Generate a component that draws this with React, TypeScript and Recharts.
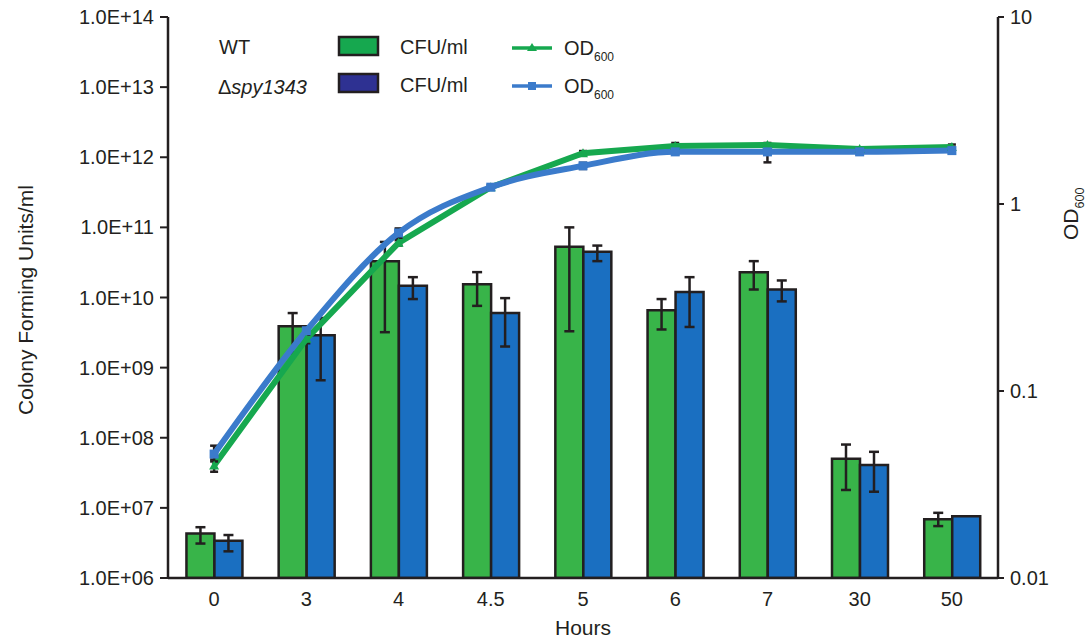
import { Bar, ComposedChart, ErrorBar, Line, XAxis, YAxis } from "recharts";

const hours = ["0", "3", "4", "4.5", "5", "6", "7", "30", "50"];

// CFU/ml (bars)
const wtCfu = [4.3e6, 3.9e9, 3.3e10, 1.55e10, 5.3e10, 6.6e9, 2.3e10, 5.0e7, 6.9e6];
const wtCfuLow = [3.1e6, 1.6e9, 3.2e9, 7.6e9, 3.3e9, 3.5e9, 1.3e10, 1.8e7, 5.5e6];
const wtCfuHigh = [5.3e6, 6.0e9, 6.2e10, 2.3e10, 1.0e11, 9.5e9, 3.3e10, 8.0e7, 8.5e6];

const muCfu = [3.4e6, 2.9e9, 1.47e10, 6.0e9, 4.5e10, 1.2e10, 1.3e10, 4.1e7, 7.6e6];
const muCfuLow = [2.4e6, 6.6e8, 9.5e9, 2.0e9, 3.3e10, 3.8e9, 8.8e9, 1.7e7, null];
const muCfuHigh = [4.1e6, 5.1e9, 1.95e10, 9.8e9, 5.5e10, 1.95e10, 1.75e10, 6.3e7, null];

// OD600 (lines)
const wtOd = [0.04, 0.19, 0.62, 1.23, 1.87, 2.04, 2.07, 1.97, 2.02];
const wtOdLow = [0.037, 0.18, 0.6, 1.2, 1.82, 1.98, 1.67, 1.93, 1.97];
const wtOdHigh = [0.043, 0.2, 0.64, 1.26, 1.92, 2.12, 2.12, 2.01, 2.08];

const muOd = [0.046, 0.21, 0.7, 1.23, 1.6, 1.9, 1.9, 1.9, 1.93];
const muOdLow = [0.042, 0.2, 0.66, 1.2, 1.54, 1.84, 1.86, 1.84, 1.87];
const muOdHigh = [0.051, 0.22, 0.74, 1.26, 1.66, 1.96, 1.94, 1.96, 2.0];

const cfuTicks = [1e6, 1e7, 1e8, 1e9, 1e10, 1e11, 1e12, 1e13, 1e14];
const odTicks = [0.01, 0.1, 1, 10];

const ink = "#231f20";
const barGreen = "#38b449";
const barBlue = "#1a6fc1";
const lineGreen = "#16a84f";
const lineBlue = "#3b7bcb";
const font = "'Liberation Sans', Arial, sans-serif";

const err = (v: number, lo: number | null, hi: number | null) =>
  lo == null || hi == null ? null : [v - lo, hi - v];

const data = hours.map((hour, i) => ({
  hour,
  wtCfu: wtCfu[i],
  muCfu: muCfu[i],
  wtCfuErr: err(wtCfu[i], wtCfuLow[i], wtCfuHigh[i]),
  muCfuErr: err(muCfu[i], muCfuLow[i], muCfuHigh[i]),
  wtOd: wtOd[i],
  muOd: muOd[i],
  wtOdErr: err(wtOd[i], wtOdLow[i], wtOdHigh[i]),
  muOdErr: err(muOd[i], muOdLow[i], muOdHigh[i]),
}));

const sciLabel = (v: number) => "1.0E+" + String(Math.round(Math.log10(v))).padStart(2, "0");

const Triangle = (p: any) => {
  const { cx, cy } = p;
  if (cx == null || cy == null) return <g key={p.index} />;
  return <path key={p.index} d={`M${cx},${cy - 5} L${cx + 5},${cy + 4} L${cx - 5},${cy + 4} Z`} fill={lineGreen} />;
};

const Square = (p: any) => {
  const { cx, cy } = p;
  if (cx == null || cy == null) return <g key={p.index} />;
  return <rect key={p.index} x={cx - 4.5} y={cy - 4.5} width={9} height={9} fill={lineBlue} />;
};

function Od600({ x, y, size }: { x: number; y: number; size: number }) {
  return (
    <text x={x} y={y} fontSize={size} fill={ink} fontFamily={font}>
      OD
      <tspan fontSize={size * 0.6} dy={size * 0.3}>600</tspan>
    </text>
  );
}

function LegendBox() {
  return (
    <svg width={460} height={100} style={{ position: "absolute", left: 200, top: 20 }}>
      <text x={19} y={34} fontSize={20} fill={ink} fontFamily={font}>WT</text>
      <text x={18} y={74} fontSize={20} fill={ink} fontFamily={font}>
        Δ<tspan fontStyle="italic">spy1343</tspan>
      </text>
      <rect x={139} y={17} width={39} height={18} fill={lineGreen} stroke={ink} strokeWidth={2.5} />
      <rect x={139} y={54} width={39} height={18} fill="#2e3192" stroke={ink} strokeWidth={2.5} />
      <text x={200} y={34} fontSize={20} fill={ink} fontFamily={font}>CFU/ml</text>
      <text x={200} y={72} fontSize={20} fill={ink} fontFamily={font}>CFU/ml</text>
      <line x1={312} x2={352} y1={28} y2={28} stroke={lineGreen} strokeWidth={3.5} />
      <path d="M332,23 L337,31 L327,31 Z" fill={lineGreen} />
      <line x1={312} x2={352} y1={66} y2={66} stroke={lineBlue} strokeWidth={3.5} />
      <rect x={328} y={62} width={8} height={8} fill={lineBlue} />
      <Od600 x={364} y={35} size={20} />
      <Od600 x={364} y={73} size={20} />
    </svg>
  );
}

export default function App() {
  return (
    <div style={{ position: "absolute", left: 0, top: 0, width: 1086, height: 641, background: "#fff", fontFamily: font }}>
      <ComposedChart
        width={1086}
        height={641}
        data={data}
        margin={{ top: 17, right: 0, bottom: 0, left: 0 }}
        barCategoryGap="20%"
        barGap={0}
      >
        <XAxis
          dataKey="hour"
          tickLine={false}
          axisLine={{ stroke: ink, strokeWidth: 2.5 }}
          tick={{ fill: ink, fontSize: 20, fontFamily: font }}
          tickMargin={8}
          height={63}
          label={{
            content: () => (
              <text x={583} y={635} textAnchor="middle" fontSize={21} fill={ink} fontFamily={font}>
                Hours
              </text>
            ),
          }}
        />
        <YAxis
          yAxisId="cfu"
          scale="log"
          domain={[1e6, 1e14]}
          ticks={cfuTicks}
          allowDataOverflow
          tickFormatter={sciLabel}
          width={168}
          tickSize={8}
          tickMargin={6}
          axisLine={{ stroke: ink, strokeWidth: 2.5 }}
          tickLine={{ stroke: ink, strokeWidth: 2 }}
          tick={{ fill: ink, fontSize: 20, fontFamily: font }}
          label={{
            content: () => (
              <text x={33} y={300} transform="rotate(-90 33 300)" textAnchor="middle" fontSize={21} fill={ink} fontFamily={font}>
                Colony Forming Units/ml
              </text>
            ),
          }}
        />
        <YAxis
          yAxisId="od"
          orientation="right"
          scale="log"
          domain={[0.01, 10]}
          ticks={odTicks}
          allowDataOverflow
          width={88}
          tickSize={6}
          tickMargin={6}
          axisLine={{ stroke: ink, strokeWidth: 2.5 }}
          tickLine={{ stroke: ink, strokeWidth: 2 }}
          tick={{ fill: ink, fontSize: 20, fontFamily: font }}
          label={{
            content: () => (
              <g transform="translate(1078 240) rotate(-90)">
                <Od600 x={0} y={0} size={21} />
              </g>
            ),
          }}
        />
        <Bar yAxisId="cfu" dataKey="wtCfu" fill={barGreen} stroke={ink} strokeWidth={2.5} isAnimationActive={false}>
          <ErrorBar dataKey="wtCfuErr" direction="y" width={5} strokeWidth={2.5} stroke={ink} />
        </Bar>
        <Bar yAxisId="cfu" dataKey="muCfu" fill={barBlue} stroke={ink} strokeWidth={2.5} isAnimationActive={false}>
          <ErrorBar dataKey="muCfuErr" direction="y" width={5} strokeWidth={2.5} stroke={ink} />
        </Bar>
        <Line
          yAxisId="od"
          type="linear"
          dataKey="wtOd"
          stroke={lineGreen}
          strokeWidth={6}
          dot={Triangle}
          activeDot={false}
          isAnimationActive={false}
        >
          <ErrorBar dataKey="wtOdErr" direction="y" width={4} strokeWidth={2.5} stroke={ink} />
        </Line>
        <Line
          yAxisId="od"
          type="monotone"
          dataKey="muOd"
          stroke={lineBlue}
          strokeWidth={6}
          dot={Square}
          activeDot={false}
          isAnimationActive={false}
        >
          <ErrorBar dataKey="muOdErr" direction="y" width={4} strokeWidth={2.5} stroke={ink} />
        </Line>
      </ComposedChart>
      <LegendBox />
    </div>
  );
}
